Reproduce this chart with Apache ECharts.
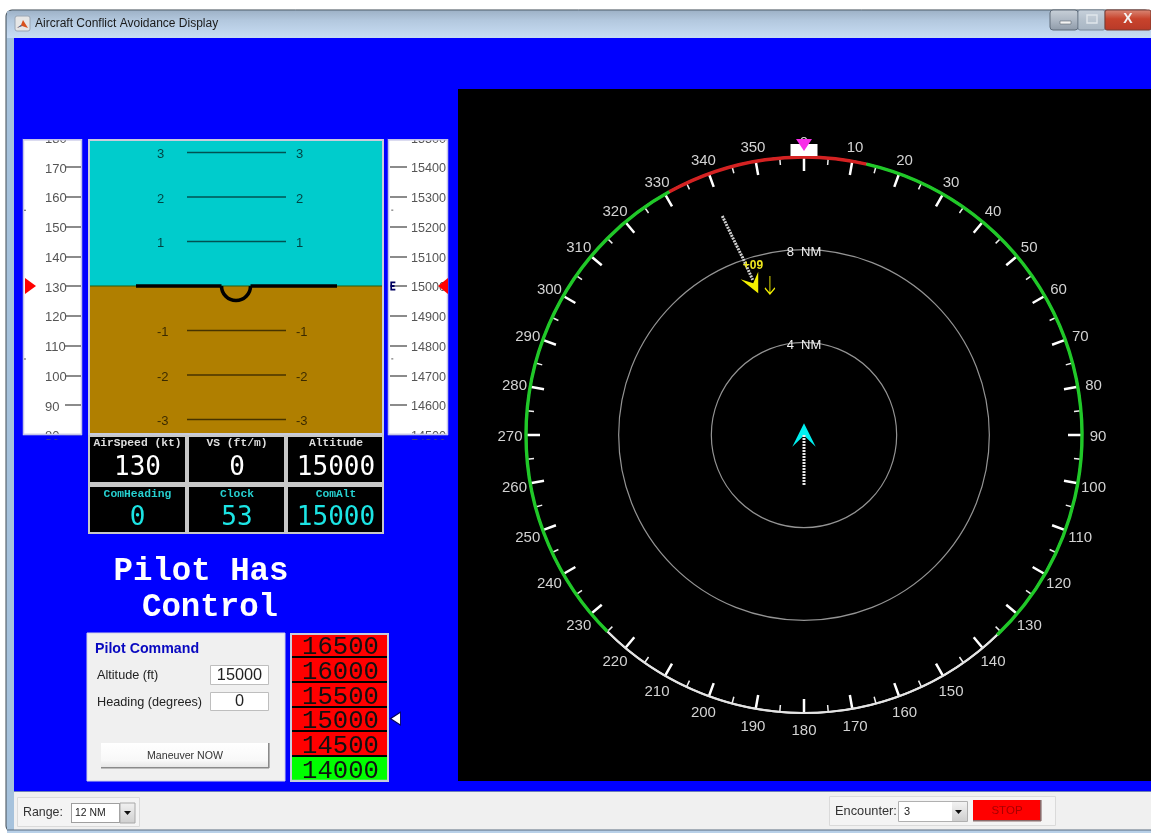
<!DOCTYPE html>
<html>
<head>
<meta charset="utf-8">
<style>html,body{margin:0;padding:0;background:#fff;overflow:hidden}#c{width:1151px;height:833px;filter:blur(0.45px)}</style>
<script src="https://cdn.jsdelivr.net/npm/echarts@6/dist/echarts.min.js"></script>
</head>
<body>
<div id="c"></div>
<script>
// ---- data ----
const airspeedNow = 130;
const altitudeNow = 15000;
const commandedAlt = '15000';
const pitchLadder = [3, 2, 1, -1, -2, -3];
const speedDots = [155.5, 105.5];
const altDots = [15255, 14755];
const bearingLabels = [0, 10, 20, 30, 40, 50, 60, 70, 80, 90, 100, 110, 120, 130, 140, 150, 160, 170,
  180, 190, 200, 210, 220, 230, 240, 250, 260, 270, 280, 290, 300, 310, 320, 330, 340, 350];
const bearingLabelRange = 12.69;
const readoutLabels = ['AirSpeed (kt)', 'VS (ft/m)', 'Altitude', 'ComHeading', 'Clock', 'ComAlt'];
const readoutValues = ['130', '0', '15000', '0', '53', '15000'];
const pickerAltitudes = ['16500', '16000', '15500', '15000', '14500', '14000'];
const pickerConflict = [1, 1, 1, 1, 1, 0];
const ringSegments = [[-29, 13], [13, 136], [136, 225], [225, 331]];
const ringColors = ['#D42222', '#20C828', '#E4E4E4', '#20C828'];
const ringWidths = [3.4, 3.4, 2, 3.4];
const ownTrail = [[0, 0], [0.7, 180], [1.4, 180], [2.16, 180]];
const intruderTrail = [[10.09, 339.54], [9.1, 340.1], [8.1, 340.9], [7.05, 341.7]];
const intruderPos = [6.99, 340.3];
const intruderLabel = '+09';
const bugPos = [12, 0];

// ---- helpers ----
const SANS = '"Liberation Sans", Arial, sans-serif';
const MONO = '"Liberation Mono", "Courier New", monospace';
function R(x, y, w, h, fill, z, stroke, lw, r) {
  return { type: 'rect', z: z === undefined ? -10 : z, silent: true,
    shape: { x, y, width: w, height: h, r: r || 0 },
    style: { fill: fill, stroke: stroke || null, lineWidth: lw || 0 } };
}
function T(x, y, text, font, fill, align, z) {
  return { type: 'text', z: z === undefined ? -5 : z, silent: true,
    style: { x, y, text, font, fill, align: align || 'left', textAlign: align || 'left',
      verticalAlign: 'middle', textVerticalAlign: 'middle' } };
}
function P(points, fill, z, stroke, lw) {
  return { type: 'polygon', z: z === undefined ? -5 : z, silent: true,
    shape: { points }, style: { fill, stroke: stroke || null, lineWidth: lw || 0 } };
}
function grad(stops) {
  return { type: 'linear', x: 0, y: 0, x2: 0, y2: 1,
    colorStops: stops.map(s => ({ offset: s[0], color: s[1] })) };
}

// ---- window furniture ----
const el = [];
el.push(R(6, 10, 1145, 822, '#B4CCE4', -12, '#3A4650', 1, 6));
el.push(R(7, 11, 1144, 27, grad([[0, '#9FB3C8'], [0.35, '#B3C8DE'], [1, '#C8DDF4']]), -11));
el.push(R(7, 38, 7, 792, '#A6C2DC', -11));
el.push(R(14, 38, 1137, 754, '#0000FF', -10));
el.push(R(14, 792, 1137, 38, '#F0F0F0', -10));
el.push(R(14, 791, 1137, 1, '#6C7FB8', -9));
el.push(R(7, 830, 1144, 3, '#B8D0E8', -9));
el.push(R(7, 829.5, 1144, 1, '#5A6C80', -9));
el.push(R(458, 89, 693, 692, '#000000', -9));
// title bar
el.push(R(15, 16, 15, 15, '#E6E6E6', -8, '#9AA6B4', 1, 2));
el.push(P([[17, 28], [21, 25], [23, 20], [28, 28], [22, 26]], '#D8501C', -7));
el.push(P([[17, 28], [21, 25], [22, 26]], '#3A70B0', -7));
el.push(T(35, 24, 'Aircraft Conflict Avoidance Display', '12px ' + SANS, '#1A1A1A'));
el.push(R(1050, 10, 28, 20, grad([[0, '#C8D0D8'], [0.5, '#AEB8C4'], [1, '#8E9AA8']]), -8, '#5E6A78', 1, 3));
el.push(R(1078, 10, 27, 20, grad([[0, '#C8D2DC'], [0.5, '#B4C0CC'], [1, '#A8B6C4']]), -8, '#7A8898', 1, 2));
el.push(R(1105, 10, 46, 20, grad([[0, '#DA8A78'], [0.45, '#C8432C'], [1, '#B83A28']]), -8, '#7A3A30', 1, 2));
el.push(R(1060, 21, 11, 3, '#F4F4F4', -7, '#5A6470', 0.6));
el.push(R(1087, 15, 10, 8, 'rgba(255,255,255,0.1)', -7, '#E0E6EC', 1.4));
el.push(T(1128, 19, 'X', 'bold 14px ' + SANS, '#F4F4F4', 'center', -7));
// tape panels
el.push(R(23.5, 139.5, 58, 295, '#FFFFFF', -8, '#C6C6E8', 1.5));
el.push(R(388.5, 139.5, 59, 295, '#FFFFFF', -8, '#C6C6E8', 1.5));
el.push(R(88, 139, 296, 297, '#C8CCDC', -8));
// clip strips over the tape ends
[[23, 130, 60, 9], [388, 130, 61, 9], [23, 435.2, 60, 4], [388, 435.2, 61, 4]].forEach(a => {
  el.push(R(a[0], a[1], a[2], a[3], '#0000FF', 100));
});
[[23, 139, 59, 1.4], [388, 139, 60, 1.4], [23, 433.8, 59, 1.4], [388, 433.8, 60, 1.4]].forEach(a => {
  el.push(R(a[0], a[1], a[2], a[3], '#C6C6E8', 101));
});
// readouts
el.push(R(88, 435, 296, 99, '#C8C8C8', -8));
const cols = [[90, 95, 137.5], [189, 95, 237], [288, 94, 336]];
const rows = [[437, 45, 443.5, 468, '#DEDEDE', '#FFFFFF'], [487, 45, 494, 518, '#26D0D0', '#1CE4E4']];
rows.forEach((r, ri) => cols.forEach((c, ci) => {
  const k = ri * 3 + ci;
  el.push(R(c[0], r[0], c[1], r[1], '#000000', -7));
  el.push(T(c[2], r[2], readoutLabels[k], 'bold 11.3px ' + MONO, r[4], 'center'));
  el.push(T(c[2], r[3], readoutValues[k], '26px "DejaVu Sans Mono", monospace', r[5], 'center'));
}));
// status
el.push(T(201, 572, 'Pilot Has', 'bold 32.4px ' + MONO, '#FFFFFF', 'center'));
el.push(T(210, 608, 'Control', 'bold 32.4px ' + MONO, '#FFFFFF', 'center'));
// command panel
el.push(R(87, 633, 198, 148, '#F0F0F0', -8, '#CFCFE8', 1));
el.push(T(95, 649, 'Pilot Command', 'bold 14.2px ' + SANS, '#0808C0'));
el.push(T(97, 675, 'Altitude (ft)', '12.7px ' + SANS, '#222'));
el.push(T(97, 702, 'Heading (degrees)', '12.7px ' + SANS, '#222'));
el.push(R(210.5, 665.5, 58, 19, '#FFFFFF', -7, '#BEBEBE', 1));
el.push(R(210.5, 692.5, 58, 18, '#FFFFFF', -7, '#BEBEBE', 1));
el.push(T(239.5, 675.5, '15000', '16.3px ' + SANS, '#222', 'center'));
el.push(T(239.5, 702, '0', '16.3px ' + SANS, '#222', 'center'));
el.push(R(101, 743, 168, 25, grad([[0, '#FFFFFF'], [0.7, '#F8F8F8'], [1, '#E4E4E4']]), -7));
el.push(R(101, 767, 168, 1.6, '#8A8A8A', -6));
el.push(R(268, 743, 1.6, 25, '#8A8A8A', -6));
el.push(T(185, 756, 'Maneuver NOW', '10.6px ' + SANS, '#333', 'center'));
// picker frame
el.push(R(290, 633, 99, 149, '#C8CCDC', -8));
el.push(R(290, 631, 99, 4, '#C8CCDC', 100));
el.push(R(290, 630, 99, 3, '#0000FF', 101));
el.push(R(290, 779.8, 99, 2.2, '#C8CCDC', 100));
// toolbar
el.push(R(17.5, 797.5, 122, 29, '#F4F4F4', -8, '#DADADA', 1));
el.push(T(23, 813, 'Range:', '12.4px ' + SANS, '#333'));
el.push({ type: 'rect', z: -7, silent: true, shape: { x: 71.5, y: 803.5, width: 48, height: 19 },
  style: { fill: '#FFFFFF', stroke: '#444', lineWidth: 1, lineDash: [1, 1] } });
el.push(R(120, 803, 15, 20, grad([[0, '#F2F2F2'], [1, '#CFCFCF']]), -7, '#A8A8A8', 1));
el.push(P([[124, 811], [131, 811], [127.5, 815]], '#111', -6));
el.push(T(75, 813, '12 NM', '10.4px ' + SANS, '#222'));
el.push(R(829.5, 796.5, 226, 29, '#F4F4F4', -8, '#DADADA', 1));
el.push(T(835, 811, 'Encounter:', '12.8px ' + SANS, '#333'));
el.push(R(898.5, 801.5, 69, 20, '#FFFFFF', -7, '#B0B0B0', 1));
el.push(R(952, 802, 15, 19, grad([[0, '#F2F2F2'], [1, '#CFCFCF']]), -6));
el.push(P([[955, 810], [962, 810], [958.5, 814]], '#111', -5));
el.push(T(904, 812, '3', '11px ' + SANS, '#222'));
el.push(R(973, 800, 68, 21, '#FF0000', -7));
el.push(R(973, 820, 68, 1.6, '#8A6A6A', -6));
el.push(R(1040, 800, 1.6, 21, '#8A6A6A', -6));
el.push(T(1007, 810.5, 'STOP', '11.5px ' + SANS, '#A80000', 'center'));

// ---- renderers ----
function renderBand(params, api) {
  const a = api.coord([-146, api.value(1)]);
  const b = api.coord([146, api.value(0)]);
  return { type: 'rect', shape: { x: a[0], y: a[1], width: b[0] - a[0], height: b[1] - a[1] },
    style: { fill: params.dataIndex === 0 ? '#00CCCC' : '#B07F00' } };
}
function renderLadder(params, api) {
  const v = api.value(0);
  const a = api.coord([-49, v]), b = api.coord([50, v]);
  const lab = String(v);
  const txt = x => ({ type: 'text', style: { x: x, y: a[1] + 2, text: lab, fill: 'rgba(0,0,0,0.68)',
    font: '13px ' + SANS, textVerticalAlign: 'middle', verticalAlign: 'middle' } });
  return { type: 'group', children: [
    { type: 'line', shape: { x1: a[0], y1: a[1], x2: b[0], y2: b[1] },
      style: { stroke: 'rgba(0,0,0,0.6)', lineWidth: 1.5 } },
    txt(a[0] - 30), txt(b[0] + 10)
  ] };
}
function renderAircraft(params, api) {
  const l0 = api.coord([-146, 0]), l1 = api.coord([146, 0]);
  const a = api.coord([-100, 0]), b = api.coord([-14.5, 0]);
  const c = api.coord([14.5, 0]), d = api.coord([101, 0]);
  const m = api.coord([0, 0]);
  const lw = { stroke: '#000', lineWidth: 3.6, fill: null };
  return { type: 'group', children: [
    { type: 'line', shape: { x1: l0[0], y1: l0[1], x2: l1[0], y2: l1[1] }, style: { stroke: '#2C5A10', lineWidth: 1 } },
    { type: 'line', shape: { x1: a[0], y1: a[1], x2: b[0], y2: b[1] }, style: lw },
    { type: 'line', shape: { x1: c[0], y1: c[1], x2: d[0], y2: d[1] }, style: lw },
    { type: 'arc', shape: { cx: m[0], cy: m[1], r: 14.5, startAngle: 0, endAngle: Math.PI, clockwise: true }, style: lw }
  ] };
}
function renderRing(params, api) {
  const cs = params.coordSys;
  const rad = d => (d - 90) * Math.PI / 180;
  return { type: 'arc',
    shape: { cx: cs.cx, cy: cs.cy, r: cs.r, startAngle: rad(api.value(0)), endAngle: rad(api.value(1)), clockwise: true },
    style: { stroke: ringColors[params.dataIndex], lineWidth: ringWidths[params.dataIndex], fill: null } };
}

const hiddenX = (gridIndex, min, max) => ({ type: 'value', gridIndex, min, max, show: false });
// the speed tape's scale column covers only the tick strip, so its marks sit left of the strip
const speedX = -2.156;

const option = {
  animation: false,
  backgroundColor: '#FFFFFF',
  graphic: { elements: el },
  grid: [
    { left: 65, top: 137.25, width: 16, height: 297.5 },
    { left: 90, top: 141, width: 292, height: 292 },
    { left: 390, top: 137.25, width: 57, height: 297.5 },
    { left: 292, top: 632, width: 95, height: 148.5 }
  ],
  xAxis: [hiddenX(0, 0, 1), hiddenX(1, -146, 146), hiddenX(2, 0, 1), hiddenX(3, 0, 1)],
  yAxis: [
    { type: 'value', gridIndex: 0, position: 'left', min: 80, max: 180, interval: 10,
      axisLine: { show: false }, splitLine: { show: false },
      axisTick: { inside: true, length: 16, lineStyle: { color: '#666', width: 1.5 } },
      axisLabel: { margin: 20, align: 'left', color: '#555', fontSize: 13, fontFamily: SANS, verticalAlign: 'top', lineHeight: 4 } },
    { type: 'value', gridIndex: 1, min: -3.303, max: 3.258, show: false },
    { type: 'value', gridIndex: 2, position: 'left', min: 14500, max: 15500, interval: 100,
      axisLine: { show: false }, splitLine: { show: false },
      axisTick: { inside: true, length: 17, lineStyle: { color: '#666', width: 1.5 } },
      axisLabel: { inside: true, margin: 21, align: 'left', color: '#555', fontSize: 12.6, fontFamily: SANS, verticalAlign: 'top', lineHeight: 4, formatter: v => String(v) } },
    { type: 'category', gridIndex: 3, inverse: true, data: pickerAltitudes, z: 5,
      axisLine: { show: false }, axisTick: { show: false }, axisLabel: { show: false },
      splitLine: { show: true, lineStyle: { color: '#000', width: 2 } } }
  ],
  polar: { center: [804, 435], radius: 278 },
  angleAxis: {
    type: 'value', min: 0, max: 360, interval: 10, startAngle: 90, clockwise: true,
    axisLine: { show: true, lineStyle: { color: '#E4E4E4', width: 2 } },
    axisTick: { show: true, inside: true, length: 14, lineStyle: { color: '#FFFFFF', width: 2.5 } },
    minorTick: { show: true, splitNumber: 2, length: 7, lineStyle: { color: '#EEEEEE', width: 1.5 } },
    splitLine: { show: false },
    axisLabel: { show: false }
  },
  radiusAxis: {
    type: 'value', min: 0, max: 12, interval: 4, z: 3,
    axisLine: { show: false }, axisTick: { show: false },
    splitLine: { show: true, lineStyle: { color: '#949494', width: 1.2 } },
    axisLabel: { color: '#F0F0F0', fontSize: 13, fontFamily: SANS, margin: 0, align: 'center', verticalAlign: 'top', lineHeight: 6,
      formatter: v => (v === 4 || v === 8) ? v + '  NM' : '' }
  },
  series: [
    // airspeed tape
    { type: 'scatter', xAxisIndex: 0, yAxisIndex: 0, symbol: 'rect', symbolSize: [2, 1], z: 3, silent: true, clip: false,
      itemStyle: { color: '#333' }, data: speedDots.map(v => [-2.5, v]) },
    { type: 'scatter', xAxisIndex: 0, yAxisIndex: 0, symbol: 'triangle', symbolSize: [16, 11], symbolRotate: -90, z: 4, silent: true, clip: false,
      itemStyle: { color: '#FF0000', opacity: 1 }, data: [[speedX, airspeedNow]] },
    // attitude
    { type: 'custom', xAxisIndex: 1, yAxisIndex: 1, renderItem: renderBand, silent: true, z: 1,
      data: [[0, 3.258], [-3.303, 0]] },
    { type: 'custom', xAxisIndex: 1, yAxisIndex: 1, renderItem: renderLadder, silent: true, z: 2,
      data: pitchLadder.map(v => [v]) },
    { type: 'custom', xAxisIndex: 1, yAxisIndex: 1, renderItem: renderAircraft, silent: true, z: 3,
      data: [[0]] },
    // altitude tape
    { type: 'scatter', xAxisIndex: 2, yAxisIndex: 2, symbol: 'rect', symbolSize: [2, 1], z: 3, silent: true,
      itemStyle: { color: '#333' }, data: altDots.map(v => [0.04, v]) },
    { type: 'scatter', xAxisIndex: 2, yAxisIndex: 2, symbol: 'triangle', symbolSize: [16, 10], symbolRotate: 90, z: 4, silent: true,
      itemStyle: { color: '#FF0000', opacity: 1 }, data: [[0.93, altitudeNow]] },
    { type: 'scatter', xAxisIndex: 2, yAxisIndex: 2, symbol: 'path://M0 0L6 0L6 2L2 2L2 4L5 4L5 6L2 6L2 8L6 8L6 10L0 10Z', symbolSize: [5, 9], z: 4, silent: true,
      itemStyle: { color: '#000060', opacity: 1 }, data: [[0.05, altitudeNow]] },
    // altitude picker
    { type: 'bar', xAxisIndex: 3, yAxisIndex: 3, barWidth: '100%', z: 2, silent: true,
      label: { show: true, position: 'inside', offset: [1, 3], formatter: '{b}', color: '#111', fontFamily: MONO, fontSize: 25.6 },
      data: pickerAltitudes.map((a, i) => ({ name: a, value: 1, itemStyle: { color: pickerConflict[i] ? '#FF0000' : '#00FF00' } })) },
    { type: 'scatter', xAxisIndex: 3, yAxisIndex: 3, symbol: 'triangle', symbolSize: [13, 10], symbolRotate: 90, z: 6, clip: false, silent: true,
      itemStyle: { color: '#FFFFFF', opacity: 1, borderColor: '#000060', borderWidth: 1 }, data: [[1.089, commandedAlt]] },
    // radar ring
    { type: 'custom', coordinateSystem: 'polar', renderItem: renderRing, silent: true, z: 5,
      data: ringSegments },
    // bearing labels
    { type: 'scatter', coordinateSystem: 'polar', symbol: 'circle', symbolSize: 1, z: 4, clip: false, silent: true,
      itemStyle: { color: 'transparent', opacity: 1 },
      label: { show: true, position: 'inside', offset: [0, 2], formatter: p => String(p.value[1]),
        color: '#D2D2D2', fontSize: 15, fontFamily: SANS },
      data: bearingLabels.map(b => [bearingLabelRange, b]) },
    // bearing bug
    { type: 'scatter', coordinateSystem: 'polar', symbol: 'rect', symbolSize: [27, 12], symbolOffset: [0, -7], z: 6, clip: false, silent: true,
      itemStyle: { color: '#FFFFFF', opacity: 1 }, data: [bugPos] },
    { type: 'scatter', coordinateSystem: 'polar', symbol: 'triangle', symbolRotate: 180, symbolSize: [16, 12], symbolOffset: [0, -12], z: 7, clip: false, silent: true,
      itemStyle: { color: '#F82CE8', opacity: 1 }, data: [bugPos] },
    // own ship
    { type: 'scatter', coordinateSystem: 'polar', symbol: 'path://M11.7 0L23.4 23.5L11.7 12.2L0 23.5Z', symbolSize: [23.4, 23.5], z: 6, clip: false, silent: true,
      itemStyle: { color: '#00F0F0', opacity: 1 }, data: [[0, 0]] },
    { type: 'line', coordinateSystem: 'polar', symbol: 'none', z: 7, silent: true, clip: false,
      lineStyle: { color: '#E8E8E8', width: 3, type: [2, 1] }, data: ownTrail },
    // intruder
    { type: 'scatter', coordinateSystem: 'polar', symbol: 'path://M17.6 21.6L0 7.6L12.6 11.6L17.6 0Z', symbolSize: [17.6, 21.6], z: 6, clip: false, silent: true,
      itemStyle: { color: '#F4F000', opacity: 1 }, data: [intruderPos] },
    { type: 'scatter', coordinateSystem: 'polar', symbol: 'path://M5 0L5 18M0 12L5 18L10 12', symbolSize: [10, 18], symbolOffset: [20.5, 2.5], z: 6, clip: false, silent: true,
      itemStyle: { color: 'transparent', borderColor: '#F4F000', borderWidth: 1.2, opacity: 1 }, data: [intruderPos] },
    { type: 'line', coordinateSystem: 'polar', symbol: 'none', z: 7, silent: true, clip: false,
      lineStyle: { color: '#CFCFCF', width: 3, type: [2, 1] }, data: intruderTrail },
    { type: 'scatter', coordinateSystem: 'polar', symbol: 'circle', symbolSize: 1, z: 8, clip: false, silent: true,
      itemStyle: { color: 'transparent', opacity: 1 },
      label: { show: true, position: 'inside', offset: [3.5, -16.5], formatter: intruderLabel, color: '#F0E81E', fontWeight: 'bold', fontSize: 12, fontFamily: SANS },
      data: [intruderPos] }
  ]
};
const chart = echarts.init(document.getElementById('c'));
chart.setOption(option);
</script>
</body>
</html>
